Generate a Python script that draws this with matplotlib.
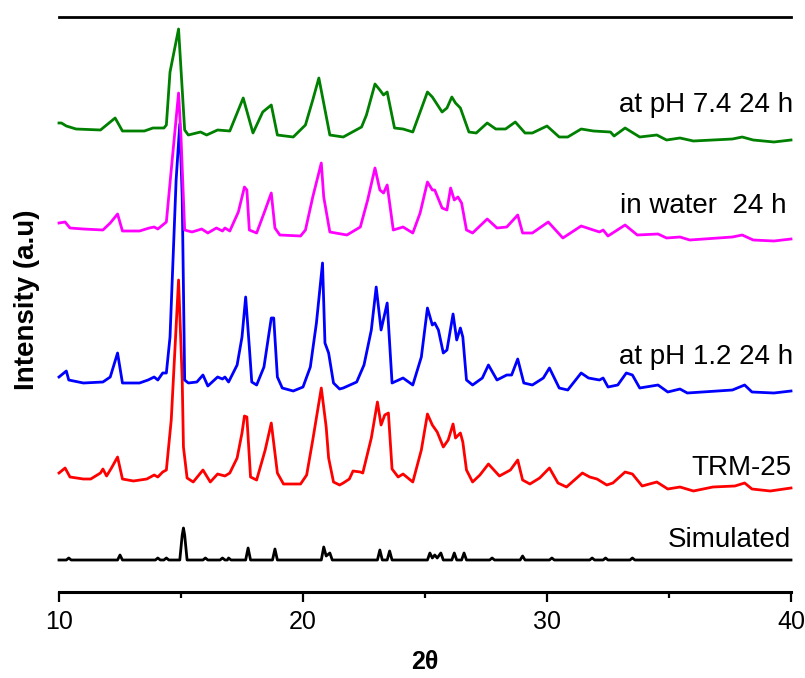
import numpy as np
import matplotlib
matplotlib.use("Agg")
import matplotlib.pyplot as plt
from matplotlib.ticker import MultipleLocator

plt.rcParams['font.family'] = ['Liberation Sans', 'DejaVu Sans']

# powder patterns, 2theta (deg) and intensity (a.u., arbitrary scale)
sim_tt = [10.0, 10.3, 10.4, 10.5, 12.4, 12.5, 12.6, 13.95, 14.05, 14.15, 14.3, 14.4, 14.5,
          14.95, 15.05, 15.1, 15.15, 15.25, 15.9, 16.0, 16.1, 16.6, 16.7, 16.8, 16.9, 16.95,
          17.05, 17.65, 17.75, 17.85, 18.75, 18.85, 18.95, 20.75, 20.85, 20.95, 21.1, 21.2,
          23.05, 23.15, 23.25, 23.45, 23.55, 23.65, 25.1, 25.2, 25.3, 25.4, 25.5, 25.65,
          25.75, 26.1, 26.2, 26.3, 26.5, 26.6, 26.7, 27.65, 27.75, 27.85, 28.9, 29.0, 29.1,
          30.1, 30.2, 30.3, 31.75, 31.85, 31.95, 32.3, 32.4, 32.5, 33.4, 33.5, 33.6, 40.0]
sim_int = [0, 0, 2, 0, 0, 5, 0, 0, 2, 0, 0, 2, 0,
           0, 25, 32, 25, 0, 0, 2, 0, 0, 2, 0, 0, 2,
           0, 0, 12, 0, 0, 11, 0, 0, 13, 4, 7, 0,
           0, 10, 0, 0, 9, 0, 0, 7, 2, 5, 2, 7,
           0, 0, 7, 0, 0, 7, 0, 0, 2, 0, 0, 4, 0,
           0, 2, 0, 0, 2, 0, 0, 2, 0, 0, 2, 0, 0]

trm_tt = [10.0, 10.25, 10.45, 11.0, 11.3, 11.7, 11.8, 11.95, 12.15, 12.4, 12.6, 13.05, 13.6,
          13.9, 14.05, 14.25, 14.4, 14.6, 14.9, 15.05, 15.1, 15.25, 15.5, 15.9, 16.2, 16.5,
          16.8, 17.0, 17.3, 17.5, 17.6, 17.7, 17.85, 18.1, 18.45, 18.7, 18.95, 19.2, 19.9,
          20.15, 20.4, 20.75, 20.95, 21.05, 21.25, 21.5, 21.65, 21.9, 22.05, 22.35, 22.45,
          22.8, 23.05, 23.2, 23.35, 23.5, 23.65, 23.9, 24.1, 24.5, 24.85, 25.1, 25.3, 25.5,
          25.75, 25.95, 26.15, 26.25, 26.45, 26.55, 26.7, 26.95, 27.25, 27.6, 28.05, 28.5,
          28.8, 29.0, 29.3, 29.7, 30.1, 30.45, 30.8, 31.45, 31.75, 32.05, 32.45, 32.7, 33.2,
          33.5, 33.9, 34.5, 34.95, 35.45, 36.0, 36.8, 37.7, 38.1, 38.4, 39.15, 40.0]
trm_int = [17, 22, 13, 11, 11, 17, 21, 14, 22, 33, 11, 9, 11,
           15, 13, 18, 20, 70, 210, 110, 43, 12, 8, 20, 8, 16,
           14, 17, 32, 57, 74, 73, 13, 10, 40, 67, 17, 6, 6,
           15, 50, 102, 63, 32, 8, 5, 7, 11, 19, 18, 17,
           52, 88, 65, 75, 77, 21, 13, 16, 8, 40, 76, 65, 58,
           43, 50, 66, 52, 57, 48, 20, 8, 15, 26, 14, 20,
           30, 10, 6, 12, 22, 7, 3, 17, 13, 11, 5, 7, 18,
           16, 4, 8, 1, 3, -1, 3, 4, 7, 1, -1, 2]

ph12_tt = [10.0, 10.3, 10.4, 11.0, 11.8, 12.1, 12.4, 12.6, 13.3, 13.65, 13.9, 14.05, 14.25,
           14.4, 14.55, 14.8, 14.95, 15.05, 15.15, 15.3, 15.65, 15.9, 16.1, 16.5, 16.7, 16.8,
           16.95, 17.3, 17.5, 17.65, 17.8, 17.9, 18.1, 18.4, 18.7, 18.8, 18.95, 19.15, 19.6,
           20.0, 20.3, 20.55, 20.8, 20.9, 21.05, 21.25, 21.5, 21.65, 22.2, 22.5, 22.8, 23.0,
           23.2, 23.45, 23.65, 24.1, 24.5, 24.85, 25.1, 25.3, 25.4, 25.55, 25.75, 25.9, 26.15,
           26.3, 26.45, 26.55, 26.7, 26.95, 27.35, 27.6, 27.95, 28.35, 28.55, 28.8, 29.05,
           29.4, 29.85, 30.1, 30.5, 30.85, 31.4, 31.7, 32.15, 32.3, 32.5, 32.9, 33.25, 33.5,
           33.8, 34.55, 34.95, 35.45, 35.75, 37.6, 38.1, 38.4, 39.3, 40.0]
ph12_int = [15, 21, 12, 9, 10, 15, 39, 9, 9, 12, 15, 12, 19,
            19, 55, 212, 268, 195, 12, 9, 10, 17, 6, 15, 13, 15,
            10, 27, 55, 95, 45, 10, 7, 25, 74, 74, 15, 4, 1,
            5, 25, 69, 129, 49, 39, 9, 3, 4, 10, 27, 62, 105,
            62, 89, 9, 14, 7, 35, 84, 67, 69, 62, 39, 42, 78,
            52, 64, 55, 12, 7, 14, 27, 12, 17, 17, 33, 9,
            7, 14, 24, 4, 2, 19, 14, 12, 14, 5, 7, 19, 17,
            4, 7, 0, 3, -1, 2, 7, 0, -1, 1]

water_tt = [10.0, 10.25, 10.45, 11.0, 11.8, 12.1, 12.4, 12.6, 13.3, 13.7, 13.9, 14.05, 14.35,
            14.4, 14.6, 14.9, 15.0, 15.15, 15.45, 15.85, 16.1, 16.45, 16.7, 16.8, 17.0, 17.35,
            17.6, 17.7, 17.8, 18.1, 18.45, 18.7, 18.85, 19.05, 19.9, 20.1, 20.4, 20.75, 20.85,
            21.1, 21.8, 22.35, 22.65, 22.95, 23.15, 23.3, 23.45, 23.7, 24.1, 24.5, 24.8, 25.1,
            25.3, 25.4, 25.7, 25.9, 26.05, 26.2, 26.35, 26.5, 26.7, 26.95, 27.55, 27.95, 28.35,
            28.8, 29.0, 29.4, 30.05, 30.65, 31.4, 32.15, 32.3, 32.5, 33.2, 33.7, 34.55, 34.9,
            35.45, 35.85, 37.6, 38.0, 38.45, 39.3, 40.0]
water_int = [17, 18, 12, 11, 10, 17, 26, 9, 9, 12, 13, 11, 17,
             18, 70, 147, 103, 10, 8, 11, 7, 12, 9, 12, 9, 28,
             53, 50, 10, 7, 30, 47, 12, 5, 4, 10, 43, 77, 43,
             8, 5, 13, 40, 72, 50, 47, 55, 10, 13, 7, 27, 58,
             50, 50, 32, 30, 52, 40, 43, 37, 10, 7, 21, 12, 13,
             25, 7, 7, 18, 2, 14, 8, 10, 4, 15, 5, 6, 2,
             3, 0, 3, 5, 0, -1, 1]

ph74_tt = [10.0, 10.1, 10.3, 10.7, 11.7, 11.8, 12.3, 12.6, 13.5, 13.85, 14.3, 14.4, 14.55,
           14.9, 15.15, 15.3, 15.8, 16.05, 16.5, 17.0, 17.55, 17.95, 18.35, 18.7, 18.95, 19.6,
           20.1, 20.4, 20.65, 21.1, 21.65, 22.4, 22.6, 22.95, 23.15, 23.3, 23.45, 23.6, 23.75,
           24.1, 24.5, 25.1, 25.3, 25.7, 25.9, 26.1, 26.25, 26.45, 26.8, 27.1, 27.55, 27.9,
           28.3, 28.7, 29.1, 29.4, 30.0, 30.5, 30.85, 31.4, 31.9, 32.6, 32.75, 33.2, 33.8,
           34.5, 34.9, 35.45, 36.0, 37.6, 38.0, 38.45, 39.3, 40.0]
ph74_int = [17, 17, 14, 11, 10, 12, 22, 9, 9, 12, 12, 15, 68,
            111, 10, 5, 8, 5, 10, 9, 42, 7, 28, 35, 5, 3,
            15, 40, 62, 5, 3, 13, 25, 56, 50, 45, 48, 30, 12,
            11, 8, 48, 43, 28, 32, 43, 37, 32, 8, 7, 17, 11,
            11, 18, 7, 7, 14, 3, 3, 11, 9, 8, 4, 12, 3,
            5, 0, 2, -1, 1, 3, 0, -2, 0]

labels = ["Simulated", "TRM-25", "at pH 1.2 24 h", "in water  24 h", "at pH 7.4 24 h"]

fig = plt.figure(figsize=(8.05, 6.78), dpi=100)
ax = fig.add_axes([59 / 805, 1 - 591.7 / 678, 732 / 805, 575 / 678])

# (data, offset, colour, label x, label baseline)
traces = [
    (sim_tt, sim_int, 31.7, 'black', 40.0, 45),
    (trm_tt, trm_int, 101.7, 'red', 40.0, 117),
    (ph12_tt, ph12_int, 199.7, 'blue', 40.1, 228),
    (water_tt, water_int, 351.7, 'magenta', 39.8, 379),
    (ph74_tt, ph74_int, 451.7, 'green', 40.1, 480),
]
for i, (tt, inten, off, col, lx, ly) in enumerate(traces):
    ax.plot(tt, np.array(inten) + off, color=col, lw=2.0, clip_on=False)
    ax.text(lx, ly, labels[i], ha='right', va='baseline', fontsize=20)

ax.set_xlim(10, 40)
ax.set_ylim(0, 575)
ax.set_yticks([])
ax.spines['left'].set_visible(False)
ax.spines['right'].set_visible(False)
ax.spines['top'].set_linewidth(2)
ax.spines['bottom'].set_linewidth(2.2)
ax.xaxis.set_major_locator(MultipleLocator(10))
ax.xaxis.set_minor_locator(MultipleLocator(5))
ax.tick_params(axis='x', which='major', direction='out', length=7.5, width=1.6,
               labelsize=18, pad=6)
ax.tick_params(axis='x', which='minor', direction='out', length=4, width=1.6)

fig.text(425 / 805, 1 - 662 / 678, "2θ", ha='center', va='center',
         fontsize=18, fontweight='bold')
fig.text(27 / 805, 1 - 300 / 678, "Intensity (a.u)", ha='center', va='center',
         rotation=90, fontsize=20, fontweight='bold')

fig.savefig("out.png", dpi=100)
